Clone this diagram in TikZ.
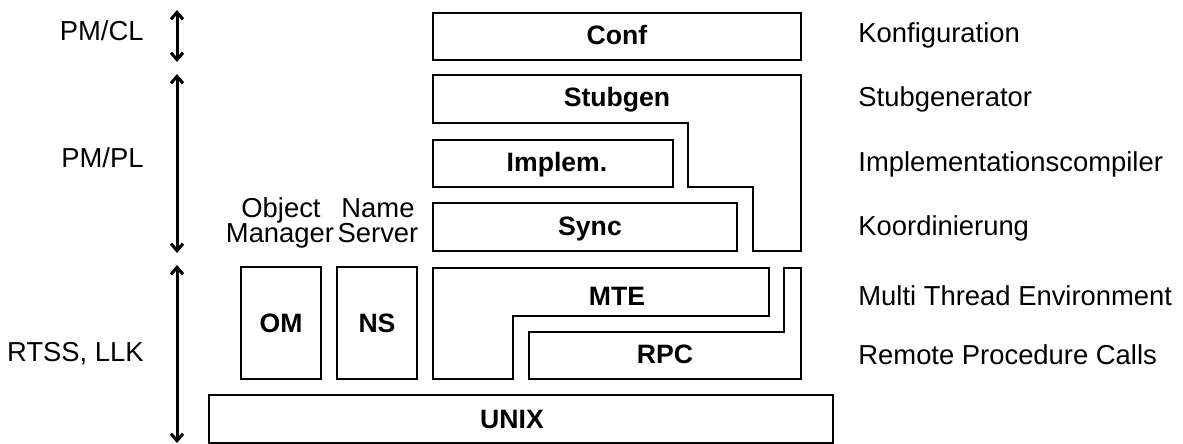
\documentclass[tikz,border=0pt]{standalone}
\usepackage{fontspec}
\setmainfont{Liberation Sans}
\usetikzlibrary{arrows.meta}
\begin{document}
\begin{tikzpicture}[x=0.5pt,y=-0.5pt,
  box/.style={draw=black,line width=1pt},
  lbl/.style={inner sep=0pt,font=\fontsize{13.7pt}{16pt}\selectfont},
  blbl/.style={inner sep=0pt,font=\fontsize{13.3pt}{15pt}\selectfont\bfseries},
  dim/.style={line width=1.5pt,{Straight Barb[length=3.5pt,width=6pt]}-{Straight Barb[length=3.5pt,width=6pt]}}]
\useasboundingbox (0,0) rectangle (1183,444);
\fill[white] (0,0) rectangle (1183,444);
% boxes
\draw[box] (433,13) rectangle (801,60);
\draw[box] (433,75) -- (801,75) -- (801,251) -- (753,251) -- (753,187) -- (688,187) -- (688,123) -- (433,123) -- cycle;
\draw[box] (433,140) rectangle (673,187);
\draw[box] (433,203) rectangle (737,251);
\draw[box] (433,268) -- (769,268) -- (769,316) -- (513,316) -- (513,379) -- (433,379) -- cycle;
\draw[box] (529,332) -- (784,332) -- (784,268) -- (801,268) -- (801,379) -- (529,379) -- cycle;
\draw[box] (241,267) rectangle (321,379);
\draw[box] (337,267) rectangle (417,379);
\draw[box] (209,395) rectangle (833,443);
% bold labels
\node[blbl,anchor=base] (conf) at (617,45) {Conf};
\node[blbl,anchor=base] (stub) at (617,107) {Stubgen};
\node[blbl,anchor=base] (impl) at (557,171) {Implem.};
\node[blbl,anchor=base] (sync) at (590,235) {Sync};
\node[blbl,anchor=base] (mte) at (617,305) {MTE};
\node[blbl,anchor=base] (rpc) at (665,363) {RPC};
\node[blbl,anchor=base] (om) at (281,332) {OM};
\node[blbl,anchor=base] (ns) at (377,332) {NS};
\node[blbl,anchor=base] (unix) at (512,428) {UNIX};
% headings
\node[lbl,anchor=base] (obj) at (281,217) {Object};
\node[lbl,anchor=base] (man) at (280,242) {Manager};
\node[lbl,anchor=base] (name) at (378,217) {Name};
\node[lbl,anchor=base] (serv) at (378,242) {Server};
% right descriptions
\node[lbl,anchor=base west] (d1) at (858,43) {Konfiguration};
\node[lbl,anchor=base west] (d2) at (858,107) {Stubgenerator};
\node[lbl,anchor=base west] (d3) at (858,171) {Implementationscompiler};
\node[lbl,anchor=base west] (d4) at (858,235) {Koordinierung};
\node[lbl,anchor=base west] (d5) at (858,305) {Multi Thread Environment};
\node[lbl,anchor=base west] (d6) at (858,364) {Remote Procedure Calls};
% left labels
\node[lbl,anchor=base east] (l1) at (144,41) {PM/CL};
\node[lbl,anchor=base east] (l2) at (144,168) {PM/PL};
\node[lbl,anchor=base east] (l3) at (144,361) {RTSS, LLK};
% arrows
\coordinate (a1t) at (177,10);
\coordinate (a1b) at (177,62);
\coordinate (a2t) at (177,74);
\coordinate (a2b) at (177,253);
\coordinate (a3t) at (177,265);
\coordinate (a3b) at (177,443);
\draw[dim] (a1t) -- (a1b);
\draw[dim] (a2t) -- (a2b);
\draw[dim] (a3t) -- (a3b);
\end{tikzpicture}
\end{document}
